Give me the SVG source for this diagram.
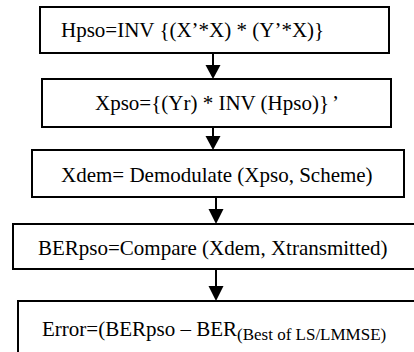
<svg xmlns="http://www.w3.org/2000/svg" width="414" height="352" viewBox="0 0 414 352">
<defs>
<style>
.box{fill:#fff;stroke:#000;stroke-width:2}
.t{font-family:"Liberation Serif","Times New Roman",serif;font-size:21px;fill:#000}
.sub{font-size:17px}
.c{stroke:#000;stroke-width:2;fill:none}
.h{fill:#000;stroke:none}
</style>
</defs>
<rect width="414" height="352" fill="#fff"/>
<g id="connectors">
<line class="c" x1="213" y1="53" x2="213" y2="65"/>
<path class="h" d="M205.5,65 L220.5,65 L213,79 Z"/>
<line class="c" x1="213" y1="127" x2="213" y2="136"/>
<path class="h" d="M205.5,136 L220.5,136 L213,150 Z"/>
<line class="c" x1="216" y1="197" x2="216" y2="209"/>
<path class="h" d="M208.5,209 L223.5,209 L216,224 Z"/>
<line class="c" x1="216" y1="269" x2="216" y2="286"/>
<path class="h" d="M208.5,286 L223.5,286 L216,301 Z"/>
</g>
<g id="node1">
<rect class="box" x="40" y="7" width="349" height="46"/>
<text class="t" x="61" y="37">Hpso=INV {(X’*X) * (Y’*X)}</text>
</g>
<g id="node2">
<rect class="box" x="42" y="79" width="349" height="48"/>
<text class="t" x="95" y="110">Xpso={(Yr) * INV (Hpso)}<tspan dx="3">’</tspan></text>
</g>
<g id="node3">
<rect class="box" x="32" y="150" width="372" height="47"/>
<text class="t" x="61" y="182">Xdem= Demodulate (Xpso, Scheme)</text>
</g>
<g id="node4">
<rect class="box" x="13" y="224" width="405" height="45"/>
<text class="t" x="38" y="255">BERpso=Compare (Xdem, Xtransmitted)</text>
</g>
<g id="node5">
<rect class="box" x="18" y="301" width="400" height="60"/>
<text class="t" x="42" y="336">Error=(BERpso – BER<tspan class="sub" dy="4">(Best of LS/LMMSE)</tspan></text>
</g>
</svg>
